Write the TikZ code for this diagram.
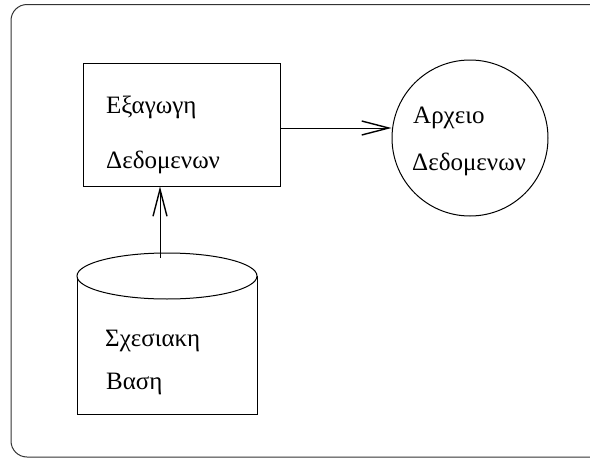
\documentclass[tikz,border=0pt]{standalone}
\usepackage{fontspec}
\setmainfont{Liberation Serif}
\usetikzlibrary{arrows.meta}
\tikzset{
  lbl/.style={anchor=base west, inner sep=0pt, font=\fontsize{25}{29}\selectfont},
  shapeline/.style={draw=black, line width=1pt},
  conn/.style={line width=1pt, -{Straight Barb[length=27pt,width=14pt,line width=1.4pt]}},
}
\begin{document}
\begin{tikzpicture}[x=1pt,y=-1pt]
\useasboundingbox (0,0) rectangle (590,458);
\begin{scope}
\clip (0,0) rectangle (590,458);
\draw[draw=black!80, line width=1pt, rounded corners=16pt] (11,4.5) rectangle (620,457);
\end{scope}
% box
\node[shapeline, rectangle, minimum width=197pt, minimum height=123pt, inner sep=0pt] (box) at (181.5,124.5) {};
\node[lbl] (t1) at (106,113) {Εξαγωγη};
\node[lbl] (t2) at (106,168) {Δεδομενων};
% circle
\node[shapeline, circle, minimum size=156pt, inner sep=0pt] (file) at (470,138) {};
\node[lbl] (t3) at (413,123) {Αρχειο};
\node[lbl] (t4) at (412,170) {Δεδομενων};
% cylinder
\draw[shapeline] (77,276) -- (77,414) -- (257,414) -- (257,276);
\draw[shapeline, fill=white] (167,276) ellipse [x radius=90, y radius=23];
\coordinate (cyltop) at (160,258);
\node[lbl] (t5) at (105,346) {Σχεσιακη};
\node[lbl] (t6) at (106,389) {Βαση};
% connectors
\draw[conn] (box.east |- 0,128) -- (file.west |- 0,128);
\draw[conn] (cyltop) -- (cyltop |- box.south);
\end{tikzpicture}
\end{document}
